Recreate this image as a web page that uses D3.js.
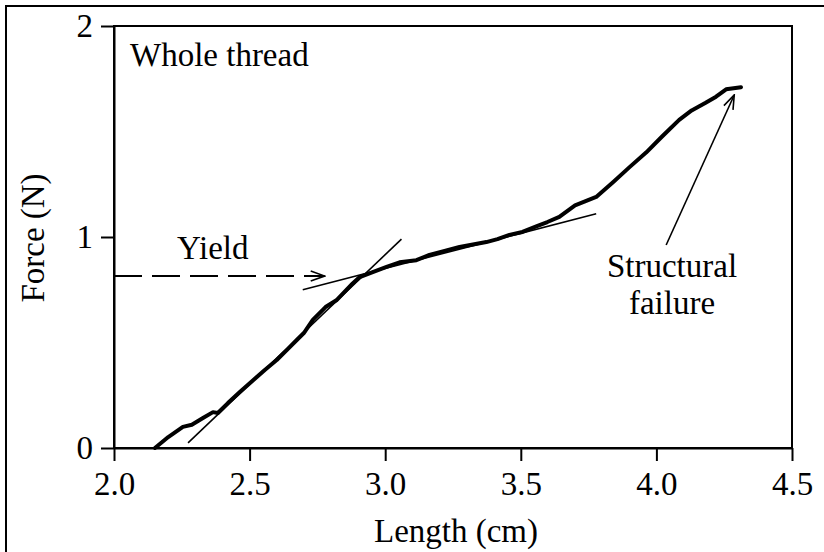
<!DOCTYPE html>
<html lang="en">
<head>
<meta charset="utf-8">
<title>Whole thread force-length</title>
<script src="https://d3js.org/d3.v7.min.js"></script>
<style>
  body { margin: 0; background: #fff; }
  text { font-family: "Liberation Serif", "Times New Roman", serif; font-size: 33px; fill: #000; }
</style>
</head>
<body>
<svg id="chart" width="824" height="552"></svg>
<script>
// data
var lengthCm = [2.151, 2.20, 2.254, 2.287, 2.328, 2.365, 2.383, 2.42, 2.464, 2.512, 2.556, 2.60,
  2.637, 2.674, 2.70, 2.733, 2.78, 2.82, 2.88, 2.906, 2.954, 3.005, 3.053, 3.115, 3.163, 3.219,
  3.274, 3.373, 3.414, 3.458, 3.506, 3.557, 3.598, 3.642, 3.70, 3.778, 3.84, 3.90, 3.962, 4.02,
  4.084, 4.13, 4.18, 4.22, 4.257, 4.312];
var forceN = [0.00, 0.052, 0.10, 0.11, 0.142, 0.17, 0.166, 0.213, 0.265, 0.32, 0.37, 0.417,
  0.464, 0.512, 0.545, 0.607, 0.668, 0.70, 0.78, 0.81, 0.834, 0.858, 0.88, 0.89, 0.915, 0.934,
  0.953, 0.976, 0.99, 1.01, 1.024, 1.05, 1.071, 1.095, 1.15, 1.19, 1.26, 1.33, 1.40, 1.475,
  1.555, 1.60, 1.635, 1.665, 1.70, 1.71];

var xTicks = [2.0, 2.5, 3.0, 3.5, 4.0, 4.5];
var yTicks = [0, 1, 2];

// tangent lines [x1, y1, x2, y2]
var tangents = [[2.273, 0.024, 3.06, 0.99], [2.696, 0.75, 3.778, 1.11]];
var yieldArrow = [2.0, 0.815, 2.777, 0.815];
var failureArrow = [4.036, 0.962, 4.287, 1.673];

var svg = d3.select("#chart");
var plotL = 114, plotR = 792, plotT = 26, plotB = 448;

var x = d3.scaleLinear().domain([2, 4.5]).range([plotL, plotR]);
var y = d3.scaleLinear().domain([0, 2]).range([plotB, plotT]);

// outer border
svg.append("rect")
  .attr("x", 6).attr("y", 6).attr("width", 830).attr("height", 560)
  .attr("fill", "none").attr("stroke", "#000").attr("stroke-width", 2);

// arrow head
svg.append("defs").append("marker")
  .attr("id", "head")
  .attr("viewBox", "0 0 16 12")
  .attr("refX", 15).attr("refY", 6)
  .attr("markerWidth", 16).attr("markerHeight", 12)
  .attr("markerUnits", "userSpaceOnUse")
  .attr("orient", "auto")
  .append("path")
  .attr("d", "M1,1 L15,6 L1,11")
  .attr("fill", "none").attr("stroke", "#000").attr("stroke-width", 1.6)
  .attr("stroke-dasharray", "none");

// frame
svg.append("rect")
  .attr("x", plotL).attr("y", plotT).attr("width", plotR - plotL).attr("height", plotB - plotT)
  .attr("fill", "none").attr("stroke", "#000").attr("stroke-width", 2);

var xAxis = svg.append("g")
  .attr("transform", "translate(0," + plotB + ")")
  .call(d3.axisBottom(x).tickValues(xTicks).tickFormat(d3.format(".1f"))
    .tickSize(13).tickSizeOuter(0).tickPadding(11));

var yAxis = svg.append("g")
  .attr("transform", "translate(" + plotL + ",0)")
  .call(d3.axisLeft(y).tickValues(yTicks).tickFormat(d3.format("d"))
    .tickSize(13).tickSizeOuter(0).tickPadding(8));

[xAxis, yAxis].forEach(function(g) {
  g.select(".domain").attr("stroke", "#000").attr("stroke-width", 2);
  g.selectAll(".tick line").attr("stroke", "#000").attr("stroke-width", 2);
  g.selectAll(".tick text").attr("fill", "#000")
    .style("font-family", "'Liberation Serif', 'Times New Roman', serif")
    .style("font-size", "33px");
});

// axis titles
svg.append("text")
  .attr("x", 456).attr("y", 542)
  .attr("text-anchor", "middle")
  .text("Length (cm)");

svg.append("text")
  .attr("transform", "translate(44,238) rotate(-90)")
  .attr("text-anchor", "middle")
  .text("Force (N)");

// tangents
svg.selectAll("line.tangent")
  .data(tangents)
  .enter().append("line")
  .attr("class", "tangent")
  .attr("x1", function(d) { return x(d[0]); })
  .attr("y1", function(d) { return y(d[1]); })
  .attr("x2", function(d) { return x(d[2]); })
  .attr("y2", function(d) { return y(d[3]); })
  .attr("stroke", "#000").attr("stroke-width", 1.6);

// curve
var pts = lengthCm.map(function(d, i) { return [d, forceN[i]]; });
var line = d3.line()
  .x(function(d) { return x(d[0]); })
  .y(function(d) { return y(d[1]); });

svg.append("path")
  .datum(pts)
  .attr("d", line)
  .attr("fill", "none")
  .attr("stroke", "#000")
  .attr("stroke-width", 4)
  .attr("stroke-linejoin", "round")
  .attr("stroke-linecap", "round");

// yield arrow (dashed)
svg.append("line")
  .attr("x1", x(yieldArrow[0])).attr("y1", y(yieldArrow[1]))
  .attr("x2", x(yieldArrow[2])).attr("y2", y(yieldArrow[3]))
  .attr("stroke", "#000").attr("stroke-width", 2)
  .attr("stroke-dasharray", "28,10")
  .attr("marker-end", "url(#head)");

// failure arrow
svg.append("line")
  .attr("x1", x(failureArrow[0])).attr("y1", y(failureArrow[1]))
  .attr("x2", x(failureArrow[2])).attr("y2", y(failureArrow[3]))
  .attr("stroke", "#000").attr("stroke-width", 1.6)
  .attr("marker-end", "url(#head)");

// labels
svg.append("text").attr("x", 130).attr("y", 66).text("Whole thread");
svg.append("text").attr("x", 177).attr("y", 259).text("Yield");
svg.append("text").attr("x", 672).attr("y", 277).attr("text-anchor", "middle").text("Structural");
svg.append("text").attr("x", 672).attr("y", 314).attr("text-anchor", "middle").text("failure");
</script>
</body>
</html>
